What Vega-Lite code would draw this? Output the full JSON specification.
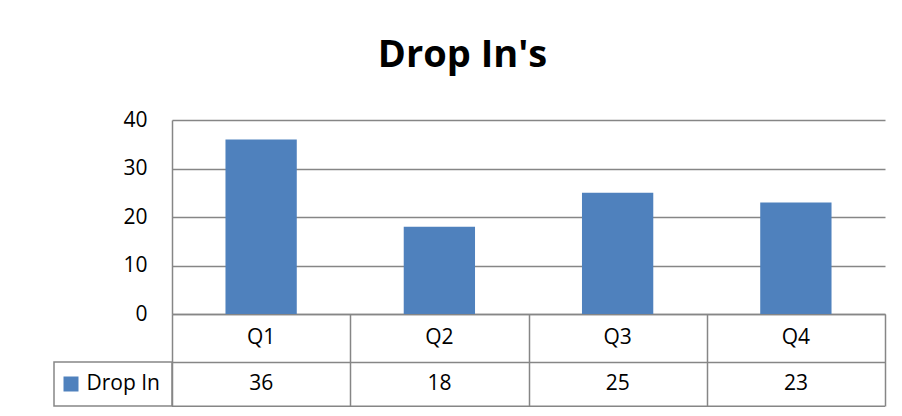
{
  "$schema": "https://vega.github.io/schema/vega-lite/v6.json",
  "width": 713,
  "height": 194,
  "autosize": "none",
  "padding": {"left": 172, "top": 120, "right": 17, "bottom": 102},
  "background": "white",
  "title": {
    "text": "Drop In's",
    "font": "Open Sans",
    "fontSize": 38,
    "fontWeight": "bold",
    "color": "black",
    "anchor": "middle",
    "baseline": "alphabetic",
    "offset": 4,
    "dx": -66
  },
  "data": {
    "values": [
      {"quarter": "Q1", "value": 36},
      {"quarter": "Q2", "value": 18},
      {"quarter": "Q3", "value": 25},
      {"quarter": "Q4", "value": 23}
    ]
  },
  "encoding": {
    "x": {
      "field": "quarter",
      "type": "nominal",
      "sort": ["Q1", "Q2", "Q3", "Q4"],
      "scale": {"paddingInner": 0, "paddingOuter": 0},
      "axis": {
        "title": null,
        "labels": false,
        "ticks": true,
        "tickBand": "extent",
        "tickSize": 92,
        "tickColor": "#868686",
        "tickWidth": 1.5,
        "domain": true,
        "domainColor": "#868686",
        "domainWidth": 1.5,
        "grid": false
      }
    }
  },
  "layer": [
    {
      "mark": {"type": "bar", "width": {"band": 0.4}},
      "encoding": {
        "y": {
          "field": "value",
          "type": "quantitative",
          "scale": {"domain": [0, 40], "nice": false, "zero": true},
          "axis": {
            "title": null,
            "values": [0, 10, 20, 30, 40],
            "grid": true,
            "gridColor": "#868686",
            "gridWidth": 1.5,
            "ticks": false,
            "domain": true,
            "domainColor": "#868686",
            "domainWidth": 1.5,
            "labelPadding": 25,
            "labelFont": "Open Sans",
            "labelFontSize": 21,
            "labelColor": "black"
          }
        },
        "color": {
          "datum": "Drop In",
          "scale": {"range": ["#4F81BD"]},
          "legend": {
            "title": null,
            "orient": "none",
            "legendX": -118,
            "legendY": 242,
            "padding": 11.5,
            "strokeColor": "#868686",
            "symbolType": "square",
            "symbolSize": 225,
            "symbolStrokeWidth": 0,
            "symbolOffset": -5,
            "labelFont": "Open Sans",
            "labelFontSize": 21,
            "labelColor": "black",
            "labelOffset": 5
          }
        }
      }
    },
    {
      "mark": {"type": "text", "font": "Open Sans", "fontSize": 21, "color": "black", "baseline": "middle", "align": "center"},
      "encoding": {
        "y": {"datum": -5, "type": "quantitative"},
        "text": {"field": "quarter"}
      }
    },
    {
      "mark": {"type": "text", "font": "Open Sans", "fontSize": 21, "color": "black", "baseline": "middle", "align": "center"},
      "encoding": {
        "y": {"datum": -14.5, "type": "quantitative"},
        "text": {"field": "value"}
      }
    },
    {
      "data": {"values": [{"line": -10}, {"line": -19}]},
      "mark": {"type": "rule", "color": "#868686", "strokeWidth": 1.5},
      "encoding": {
        "x": null,
        "y": {"field": "line", "type": "quantitative"}
      }
    }
  ],
  "config": {
    "view": {"stroke": null},
    "legend": {"strokeWidth": 1.5}
  }
}
